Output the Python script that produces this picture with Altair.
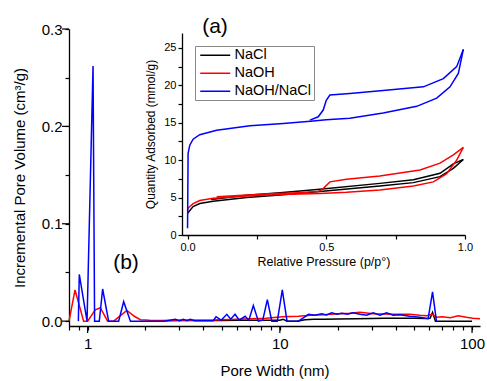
import altair as alt
import pandas as pd

FONT = "Liberation Sans"
SAMPLES = ["NaCl", "NaOH", "NaOH/NaCl"]
COLORS = ["#000000", "#ff0000", "#0000ff"]

# ---- (b) pore size distribution: pore width (nm) vs incremental pore volume (cm3/g)
psd_nacl_w = [2.38, 3.0, 4.0, 5.0, 6.0, 7.5, 9.0, 10.0, 10.4, 10.9, 12.3, 13.5, 15, 17, 20, 25,
              30, 35, 40, 50, 58, 60.5, 62.3, 64.5, 70, 80, 100]
psd_nacl_v = [0.0005, 0.0006, 0.0006, 0.0007, 0.0008, 0.0008, 0.001, 0.001, 0.002, 0.0, 0.0,
              0.0015, 0.002, 0.002, 0.0022, 0.0025, 0.0028, 0.003, 0.003, 0.003, 0.0028, 0.003,
              0.009, 0.0, 0.0, 0.0, 0.0]

psd_naoh_w = [0.80, 0.86, 0.953, 1.0, 1.096, 1.164, 1.27, 1.365, 1.6, 1.75, 1.88, 2.1, 2.47,
              3.5, 4.5, 5.5, 7.0, 8.5, 10.3, 12.5, 14.5, 17, 20, 23, 26.1, 30.6, 38.9, 47.4,
              53.5, 58, 62.3, 65.3, 70, 77, 84.6, 93.4, 101, 110]
psd_naoh_v = [0.0, 0.032, 0.0, 0.0, 0.0117, 0.0138, 0.0, 0.0, 0.011, 0.005, 0.0014, 0.0008,
              0.0007, 0.001, 0.0012, 0.0018, 0.0025, 0.003, 0.0045, 0.005, 0.006, 0.0065,
              0.0075, 0.008, 0.009, 0.0075, 0.007, 0.007, 0.006, 0.0055, 0.007, 0.004, 0.0045,
              0.0035, 0.0055, 0.004, 0.003, 0.0025]

psd_mix_w = [0.895, 0.905, 0.993, 1.067, 1.087, 1.15, 1.197, 1.286, 1.45, 1.54, 1.67, 2.5,
             2.86, 3.0, 3.15, 3.28, 3.42, 3.6, 4.5, 4.66, 4.95, 5.30, 5.55, 5.85, 6.15, 6.6,
             6.9, 7.28, 7.73, 8.15, 8.61, 9.08, 9.7, 10.3, 10.9, 12.5, 14.1, 15.2, 16.5, 17.5,
             18.6, 19.8, 21, 22.5, 24, 26.1, 28.3, 30.6, 33.2, 35.9, 38.9, 42.1, 47.4, 53.5,
             59.1, 62.3, 65.3]
psd_mix_v = [0.0, 0.048, 0.0, 0.262, 0.0, 0.0, 0.033, 0.0, 0.0, 0.020, 0.0, 0.0, 0.002,
             0.0005, 0.002, 0.0005, 0.002, 0.0005, 0.0005, 0.0045, 0.001, 0.007, 0.002, 0.007,
             0.001, 0.005, 0.001, 0.016, 0.0, 0.001, 0.022, 0.0, 0.0, 0.032, 0.0, 0.0, 0.007,
             0.006, 0.0075, 0.0063, 0.0085, 0.007, 0.008, 0.007, 0.0085, 0.007, 0.006, 0.0085,
             0.006, 0.0085, 0.006, 0.0065, 0.005, 0.004, 0.0025, 0.030, 0.0]

# ---- (a) N2 isotherms: relative pressure vs quantity adsorbed (mmol/g)
iso_nacl_ads_p = [0.0, 0.02, 0.044, 0.092, 0.213, 0.333, 0.477, 0.693, 0.814, 0.91, 0.958, 0.994]
iso_nacl_ads_q = [2.9, 3.8, 4.2, 4.5, 5.0, 5.35, 5.8, 6.55, 7.0, 7.8, 8.9, 10.1]
iso_nacl_des_p = [0.994, 0.958, 0.91, 0.814, 0.693, 0.477, 0.333, 0.213, 0.085]
iso_nacl_des_q = [10.1, 9.5, 8.25, 7.4, 6.9, 6.1, 5.65, 5.3, 4.75]

iso_naoh_ads_p = [0.0, 0.002, 0.02, 0.044, 0.092, 0.213, 0.333, 0.477, 0.573, 0.693, 0.814,
                  0.886, 0.934, 0.97, 0.994]
iso_naoh_ads_q = [3.3, 3.6, 4.2, 4.6, 4.9, 5.2, 5.4, 5.55, 5.7, 6.0, 6.55, 7.1, 8.2, 10.0, 11.7]
iso_naoh_des_p = [0.994, 0.958, 0.91, 0.838, 0.693, 0.573, 0.513, 0.489, 0.471, 0.4, 0.3,
                  0.2, 0.105]
iso_naoh_des_q = [11.7, 10.7, 9.6, 8.7, 7.9, 7.44, 7.1, 6.2, 5.8, 5.65, 5.5, 5.3, 5.1]

iso_mix_ads_p = [0.0, 0.002, 0.008, 0.02, 0.044, 0.105, 0.225, 0.345, 0.453, 0.5, 0.585,
                 0.705, 0.826, 0.898, 0.946, 0.976, 0.994]
iso_mix_ads_q = [0.9, 10.9, 12.0, 12.8, 13.4, 14.0, 14.6, 14.9, 15.25, 15.4, 15.6, 16.3,
                 17.2, 18.3, 19.8, 21.6, 24.8]
iso_mix_des_p = [0.994, 0.97, 0.922, 0.85, 0.705, 0.585, 0.513, 0.5, 0.489, 0.471, 0.441]
iso_mix_des_q = [24.8, 22.5, 20.9, 19.8, 19.3, 18.9, 18.7, 18.0, 16.7, 15.8, 15.35]

# axis tick positions
psd_ticks = [0.8, 0.9, 1, 2, 3, 4, 5, 6, 7, 8, 9, 10, 20, 30, 40, 50, 60, 70, 80, 90, 100]
psd_major = [1, 10, 100]
vol_ticks = [0.0, 0.05, 0.1, 0.15, 0.2, 0.25, 0.3]
vol_major = [0.0, 0.1, 0.2, 0.3]
p_ticks = [0.0, 0.25, 0.5, 0.75, 1.0]
q_ticks = [0, 2.5, 5, 7.5, 10, 12.5, 15, 17.5, 20, 22.5, 25]

W, H = 411, 297


def frame(sample, xs, ys, branch="all"):
    return pd.DataFrame({"sample": sample, "branch": sample + branch,
                         "i": range(len(xs)), "x": xs, "y": ys})


psd = pd.concat([
    frame("NaCl", psd_nacl_w, psd_nacl_v),
    frame("NaOH", psd_naoh_w, psd_naoh_v),
    frame("NaOH/NaCl", psd_mix_w, psd_mix_v),
])

iso = pd.concat([
    frame("NaCl", iso_nacl_ads_p, iso_nacl_ads_q, "ads"),
    frame("NaCl", iso_nacl_des_p, iso_nacl_des_q, "des"),
    frame("NaOH", iso_naoh_ads_p, iso_naoh_ads_q, "ads"),
    frame("NaOH", iso_naoh_des_p, iso_naoh_des_q, "des"),
    frame("NaOH/NaCl", iso_mix_ads_p, iso_mix_ads_q, "ads"),
    frame("NaOH/NaCl", iso_mix_des_p, iso_mix_des_q, "des"),
])

color = alt.Color(
    "sample:N",
    scale=alt.Scale(domain=SAMPLES, range=COLORS),
    legend=alt.Legend(
        orient="none", legendX=126, legendY=17, title=None,
        strokeColor="#8a8a8a", fillColor="white", padding=2,
        symbolType="M-3.0,0H3.0", symbolSize=100, symbolStrokeWidth=1.5,
        symbolOffset=11, labelOffset=12,
        labelFontSize=14.5, labelFont=FONT, labelColor="black",
        rowPadding=3,
    ),
)

common_axis = dict(grid=False, domainColor="black", tickColor="black", domainWidth=1.3,
                   tickWidth=1.2, labelColor="black", titleColor="black",
                   labelFont=FONT, titleFont=FONT, titleFontWeight="normal")

psd_x_scale = alt.Scale(type="log", domain=[0.8, 110], nice=False)
psd_y_scale = alt.Scale(domain=[-0.005, 0.3], nice=False, zero=False)

x_psd = alt.X(
    "x:Q",
    scale=psd_x_scale,
    axis=alt.Axis(
        title="Pore Width (nm)", values=psd_ticks, tickSize=4,
        labelExpr="datum.value == 1 ? '1' : datum.value == 10 ? '10' : datum.value == 100 ? '100' : ''",
        labelFontSize=15, titleFontSize=15, labelPadding=6, titlePadding=12,
        labelFlush=False, labelOverlap=False, **common_axis,
    ),
)
y_psd = alt.Y(
    "y:Q",
    scale=psd_y_scale,
    axis=alt.Axis(
        title="Incremental Pore Volume (cm³/g)", values=vol_ticks, tickSize=4,
        labelExpr="round(datum.value * 20) % 2 == 0 ? format(datum.value, '.1f') : ''",
        labelFontSize=15, titleFontSize=15, labelPadding=3, titlePadding=14,
        labelFlush=False, labelOverlap=False, **common_axis,
    ),
)

psd_lines = alt.Chart(psd).mark_line(strokeWidth=1.5).encode(
    x=x_psd, y=y_psd, color=color, order="i:Q", detail="branch:N",
)

# longer ticks at the labelled decades / tenths
major_x_ticks = alt.Chart(pd.DataFrame({"x": psd_major})).mark_rule(
    color="black", strokeWidth=1.2
).encode(x=alt.X("x:Q", scale=psd_x_scale), y=alt.value(H), y2=alt.value(H + 7))
major_y_ticks = alt.Chart(pd.DataFrame({"y": vol_major})).mark_rule(
    color="black", strokeWidth=1.2
).encode(y=alt.Y("y:Q", scale=psd_y_scale), x=alt.value(-7), x2=alt.value(0))

main = alt.layer(psd_lines, major_x_ticks, major_y_ticks)

inset = alt.Chart(iso).mark_line(strokeWidth=1.5).encode(
    x=alt.X(
        "x:Q",
        scale=alt.Scale(domain=[-0.02, 1.0], range=[113, 396], nice=False, zero=False),
        axis=alt.Axis(
            orient="bottom", offset=-91, title="Relative Pressure (p/p°)",
            values=p_ticks, tickSize=4,
            labelExpr="round(datum.value * 4) % 2 == 0 ? format(datum.value, '.1f') : ''",
            labelFontSize=11, titleFontSize=12.5, labelPadding=2, titlePadding=3,
            labelFlush=False, labelOverlap=False, **common_axis,
        ),
    ),
    y=alt.Y(
        "y:Q",
        scale=alt.Scale(domain=[0, 27], range=[206, 4], nice=False),
        axis=alt.Axis(
            orient="left", offset=-113, title="Quantity Adsorbed (mmol/g)",
            values=q_ticks, tickSize=4,
            labelExpr="round(datum.value * 2) % 2 == 0 ? format(datum.value, 'd') : ''",
            labelFontSize=11, titleFontSize=12, labelPadding=2, titlePadding=6,
            labelFlush=False, labelOverlap=False, **common_axis,
        ),
    ),
    color=color, order="i:Q", detail="branch:N",
)

panel_labels = alt.Chart(pd.DataFrame({"t": ["(a)", "(b)"], "px": [146, 57], "py": [-2, 234]})).mark_text(
    font=FONT, fontSize=21, color="black", align="center", baseline="middle"
).encode(text="t:N", x=alt.X("px:Q", scale=None), y=alt.Y("py:Q", scale=None))

chart = alt.layer(main, inset, panel_labels).resolve_scale(
    x="independent", y="independent"
).properties(
    width=W, height=H,
    autosize=alt.AutoSizeParams(type="none"),
    padding={"left": 69, "top": 29, "right": 7, "bottom": 55},
    background="white",
).configure_view(stroke=None)

chart.save("out.html", embed_options={"renderer": "svg", "actions": False})
